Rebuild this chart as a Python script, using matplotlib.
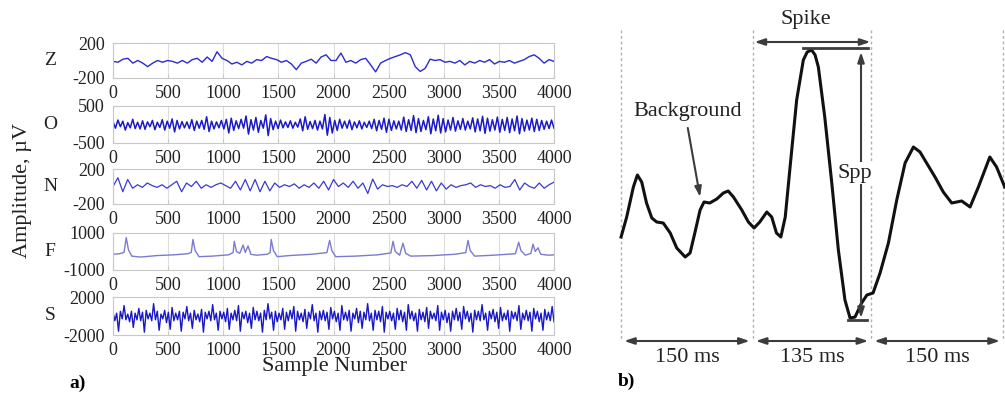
import numpy as np
import matplotlib.pyplot as plt

plt.rcParams['font.family'] = ['Liberation Serif', 'DejaVu Serif']

# ---- panel a) : five EEG channels, values in microvolts
channels = ['Z', 'O', 'N', 'F', 'S']
limits = [200, 500, 200, 1000, 2000]
x_ticks = [0, 500, 1000, 1500, 2000, 2500, 3000, 3500, 4000]

z_values = [-10, -20, 15, 25, -30, 0, -30, -70, -30, 0, -20, 0, -10, -30, 0, -30, 10, 25, -20, 40,
            -10, 100, 25, 0, -40, -20, -50, -10, -30, 10, 0, 45, 25, 10, -20, 0, -40, -105, -30, -10,
            15, -30, 40, 65, 0,
            0, 85, -20, 0, -30, 10, 25, -50, -130, -30, 0, 25, 45, 65, 90, 65, -70, -125, -90, 15,
            0, 10, -20, -10, -30, 0, -50, -10, -30, 0, -20, 10, -40, -10, -20, 0, -30, -10, 10, 45,
            65, 25, -30, 10, -10]

o_values = [80, -100, 120, -60, 90, -150, 50, -90, 140, -110, 60, -120, 100, -130, 70, -60, 110, -140, 60, -80,
            130, -150, 90, -100, 150, -200, 110, -120, 80, -90, 70, -110, 130, -160, 90, -100, 110, -130, 210, -190,
            90, -120, 70, -90, 110, -120, 140, -230, 170, -160, 100, -110, 140, -100, 230, -260, 130, -150, 190, -210,
            110, -100, 260, -300, 160, -140, 90, -110, 120, -90, 70, -80, 100, -100, 60, -70, 150, -170, 210, -130,
            80, -110, 110, -150, 90, -120, 270, -290, 190, -230, 110, -160, 140, -100, 90, -100, 120, -140, 70, -90,
            100, -120, 60, -80, 90, -110, 140, -170, 110, -130, 170, -210, 140, -160, 100, -120, 90, -150, 200, -190,
            130, -160, 240, -220, 160, -190, 110, -140, 210, -250, 150, -170, 250, -230, 160, -200, 120, -150, 190, -180,
            100, -130, 160, -150, 90, -120, 180, -200, 150, -170, 220, -240, 170, -180, 130, -150, 200, -210, 140, -160,
            190, -220, 150, -170, 230, -250, 160, -180, 120, -150, 170, -190, 140, -160, 110, -130, 90, -110, 120, -100]

n_values = [0, 100, -60, 80, -20, 20, -10, 40, 10, -10, 20, -20, 20, 60, -60, 40, 0, 60, -20, 20,
            -10, 20, 40, 10, -20, 60, -40, 80, -50, 80, -60, 60, -50, 40, -10, 20, 0, 30, -20, 20,
            -10, 40, -20, 60, -40, 80,
            0, 40, -10, 60, -20, 40, -80, 85, -30, 20, 0, 10, -10, 20, 0, 60, -20, 70, -40, 60,
            -50, 40, -30, 20, -10, 10, 20, 40, -10, 20, 0, 10, -20, 20, -10, 0, 80, -40, 40, 0,
            -20, 40, -20, 20, 50]

f_samples = [0, 60, 100, 120, 140, 170, 250, 400, 550, 680, 710, 725, 745, 780, 900, 1050,
             1090, 1100, 1120, 1150, 1180, 1200, 1225, 1250, 1300, 1400, 1425, 1435, 1455, 1490,
             1600, 1800, 1940, 1965, 1985, 2020, 2200, 2400, 2520, 2540, 2560, 2600, 2630, 2655,
             2700, 2900, 3100, 3200, 3220, 3240, 3280, 3450, 3650, 3680, 3700, 3740, 3790, 3810,
             3830, 3855, 3880, 3950, 4000]
f_values = [-150, -120, -50, 750, 100, -250, -300, -220, -180, -120, -50, 650, 50, -280, -250, -180,
            -50, 550, 0, -100, 350, -50, 300, -150, -200, -150, -50, 650, 50, -280,
            -220, -150, -60, 600, 50, -280, -250, -180, -80, 550, 0, -200, 450, -100,
            -250, -220, -150, -60, 600, 50, -250, -200, -120, 500, 50, -200, -100, 400,
            0, 200, -150, -200, -180]

s_values = [400, -500, 300, -1600, 500, -300, 1100, -400, 200, -600, 500, -1200, 300, -400, 800, -500, 400, -1700, 600, -300,
            300, -500, 1300, -400, 500, -1500, 200, -300, 600, -700, 400, -1400, 900, -500, 300, -400, 500, -1600, 400, -300,
            1000, -500, 300, -1300, 600, -400, 200, -600, 700, -1700, 400, -300, 500, -500, 1200, -400, 300, -1500, 500, -300,
            400, -600, 800, -1400, 300, -400, 600, -500, 1100, -1600, 400, -300, 500, -700, 300, -1300, 900, -400, 500, -500,
            300, -1700, 600, -400, 1300, -300, 400, -1500, 500, -600, 300, -400, 800, -1400, 400, -500, 600, -300, 1000, -1600,
            500, -400, 300, -600, 700, -1300, 400, -300, 1200, -500, 300, -1700, 500, -400, 600, -500, 400, -1400, 900, -300,
            500, -600, 300, -1500, 1100, -400, 400, -500, 600, -1600, 300, -300, 800, -700, 500, -1300, 400, -400, 1300, -500,
            300, -1500, 600, -400, 500, -600, 1000, -1700, 400, -300, 500, -500, 300, -1400, 800, -400, 600, -600, 400, -1500,
            1200, -300, 500, -500, 300, -1600, 700, -400, 400, -600, 900, -1300, 500, -300, 300, -500, 1100, -1500, 400, -400,
            600, -700, 300, -1600, 500, -400, 800, -500, 400, -1400, 1000, -300, 500, -600, 300, -1700, 600, -400, 500, -500,
            1200, -400, 300, -1500, 500, -300, 700, -600, 400, -1300, 900, -500, 300, -400, 600, -1600, 500, -300, 400, -500,
            1100, -1400, 300, -400, 600, -500, 400, -1600, 800, -300, 500, -600, 300, -1500, 700, -400, 400, -500, 1000, -600]

# ---- panel b) : spike waveform (time in ms, amplitude in arbitrary units)
wave_t = [0, 6.4, 14, 18.6, 23.5, 29, 35, 40.6, 48, 56, 63.4, 73, 78.6, 84, 90, 94.5, 101, 109,
          116.5, 122, 128, 137.5, 145, 151.5, 158, 166, 171.6, 177, 182, 187, 192.5, 200, 207.6,
          212, 217, 221, 224.7, 232, 240, 247.5, 255, 260.8, 266.5, 274, 280, 287, 295, 304.5,
          314, 323.5, 333, 340.5, 348, 357.6, 367, 376.6, 388, 397.5, 407, 420, 427.7, 437]
wave_a = [3, 23, 53, 65, 58, 37, 22, 18, 17, 7, -8, -17, -13, 7, 30, 38, 37, 41,
          47, 49, 43, 30, 18, 12, 18, 28, 23, 7, 3, 23, 73, 140, 180,
          188, 190, 185, 173, 123, 57, -10, -60, -78, -77, -63, -55, -53, -33, -3,
          40, 77, 93, 88, 77, 63, 48, 37, 39, 33, 53, 83, 73, 53]
segment_edges = [0, 150, 285, 435]
segment_labels = ['150 ms', '135 ms', '150 ms']

W, H = 1005, 394
fig = plt.figure(figsize=(W / 100, H / 100), dpi=100)


def px_axes(x0, y0, x1, y1):
    return fig.add_axes([x0 / W, 1 - y1 / H, (x1 - x0) / W, (y1 - y0) / H])


boxes = [(43, 78), (106, 143), (169, 204), (233, 270), (297, 335)]
series = [
    (np.linspace(0, 4000, len(z_values)), z_values, '#2b2bd0', 1.0),
    (np.linspace(0, 4000, len(o_values)), o_values, '#1a1ac8', 1.1),
    (np.linspace(0, 4000, len(n_values)), n_values, '#3a3ad0', 0.9),
    (f_samples, f_values, '#7a7ad2', 1.0),
    (np.linspace(0, 4000, len(s_values)), s_values, '#1818c8', 1.0),
]

for (top, bot), name, lim, (xs, ys, col, lw) in zip(boxes, channels, limits, series):
    ax = px_axes(113, top, 554, bot)
    ax.plot(xs, ys, color=col, lw=lw)
    ax.set_xlim(0, 4000)
    ax.set_ylim(-lim, lim)
    ax.set_xticks(x_ticks)
    ax.set_yticks([-lim, lim])
    ax.set_yticklabels([str(-lim), str(lim)])
    ax.grid(axis='x', color='#dcdcdc', lw=0.8)
    for sp in ax.spines.values():
        sp.set_color('#c8c8c8')
    ax.tick_params(axis='both', direction='in', length=3, color='#c8c8c8',
                   labelsize=13, labelcolor='#222222')
    ax.tick_params(axis='x', pad=5)
    ax.tick_params(axis='y', pad=6)
    fig.text(50 / W, 1 - (top + bot) / 2 / H, name, fontsize=14,
             ha='center', va='center', color='#222222')

fig.text(22 / W, 1 - 190 / H, 'Amplitude, µV', rotation=90, fontsize=16,
         ha='center', va='center', color='#222222')
fig.text(335 / W, 1 - 367 / H, 'Sample Number', fontsize=16,
         ha='center', va='center', color='#222222')
fig.text(78 / W, 1 - 383 / H, 'a)', fontsize=14, fontweight='bold',
         ha='center', va='center')

# ---- panel b)
axb = fig.add_axes([600 / W, 0, 405 / W, 1])
axb.set_xlim(-24, 437.3)
axb.set_ylim(-154, 240)
axb.axis('off')

for e in segment_edges:
    axb.plot([e, e], [210, -100], color='#b0b0b0', lw=1.0, ls=(0, (2, 2)))

axb.plot(wave_t, wave_a, color='#111111', lw=2.2, solid_joinstyle='round')

arrow_kw = dict(arrowstyle='<|-|>,head_length=0.6,head_width=0.2',
                color='#3c3c3c', lw=1.5, shrinkA=0, shrinkB=0)
gap = 3.5
for i, lab in enumerate(segment_labels):
    a0, a1 = segment_edges[i] + gap, segment_edges[i + 1] - gap
    axb.annotate('', xy=(a0, -101), xytext=(a1, -101), arrowprops=arrow_kw)
    axb.text((segment_edges[i] + segment_edges[i + 1]) / 2, -118, lab,
             fontsize=16, ha='center', va='center', color='#222222')

# spike width and peak-to-peak annotations
peak_t = wave_t[int(np.argmax(wave_a))]
axb.annotate('', xy=(152, 198), xytext=(284, 198), arrowprops=arrow_kw)
axb.text(210.7, 221, 'Spike', fontsize=16, ha='center', va='center', color='#222222')
axb.plot([peak_t - 10, 281], [192, 192], color='#3c3c3c', lw=2)
axb.plot([258.5, 280], [-80, -80], color='#3c3c3c', lw=2)
axb.annotate('', xy=(273.3, 188), xytext=(273.3, -78), arrowprops=arrow_kw)
axb.text(266.5, 67, 'Spp', fontsize=16, ha='center', va='center', color='#222222',
         bbox=dict(facecolor='white', edgecolor='none', pad=1))

axb.text(76, 129, 'Background', fontsize=16, ha='center', va='center', color='#222222')
axb.annotate('', xy=(90, 43), xytext=(76, 112),
             arrowprops=dict(arrowstyle='-|>,head_length=0.6,head_width=0.2',
                             color='#3c3c3c', lw=1.5, shrinkA=0, shrinkB=0))

axb.text(5.7, -141, 'b)', fontsize=14, fontweight='bold', ha='center', va='center')

fig.savefig('out.png', dpi=100)
